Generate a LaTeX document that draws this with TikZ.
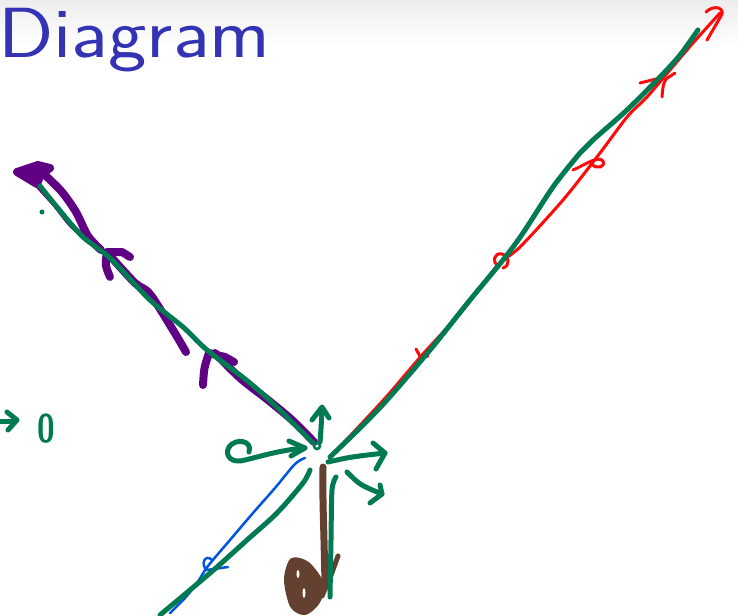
\documentclass[tikz,border=0pt]{standalone}
\definecolor{dgreen}{RGB}{0,122,82}
\definecolor{titleblue}{RGB}{51,51,179}
\definecolor{dpurple}{RGB}{96,0,130}
\definecolor{dblue}{RGB}{0,85,225}
\definecolor{dbrown}{RGB}{100,64,48}
\definecolor{dred}{RGB}{255,10,10}
\begin{document}
\begin{tikzpicture}[x=1pt,y=-1pt,
  gl/.style={draw=dgreen,line width=5pt,line cap=round,line join=round},
  pl/.style={draw=dpurple,line width=8pt,line cap=round,line join=round},
  rl/.style={draw=dred,line width=3pt,line cap=round,line join=round},
  bl/.style={draw=dblue,line width=2.5pt,line cap=round,line join=round},
  brl/.style={draw=dbrown,line width=7pt,line cap=round,line join=round}]
\useasboundingbox (0,0) rectangle (738,615);
\shade[top color=black!7, bottom color=white] (0,0) rectangle (738,46);
\node[anchor=base west, text=titleblue, inner sep=0pt,
  font=\sffamily\fontsize{71}{80}\selectfont] (title) at (-2,58) {\scalebox{1.15}[1]{Diagram}};

% purple
\filldraw[pl,fill=dpurple] (17,172) -- (38,165) -- (50,168) -- (40,176) -- (37,184) -- cycle;
\draw[pl,line width=5pt] plot[smooth] coordinates {(37,185) (55,205) (72,226) (95,246)};
\draw[pl] plot[smooth] coordinates {(46,176) (62,192) (76,212) (88,236) (101,250)};
\draw[pl] (110,277) .. controls (105,265) .. (107,252) -- (122,252) -- (130,257);
\draw[pl] plot[smooth] coordinates {(112,258) (135,283) (150,294) (173,330) (186,352)};
\draw[pl] (203,385) .. controls (204,368) .. (209,353) -- (225,357) -- (234,362);
\draw[pl] plot[smooth] coordinates {(215,353) (240,378) (268,400) (292,420) (314,442)};

% red
\draw[rl] plot[smooth] coordinates {(330,457) (350,436) (387,396) (423,354) (463,310) (497,266) (520,247) (563,200) (600,153) (627,117) (647,97) (670,70) (693,43) (720,13)};
\draw[rl] (707,40) -- (721,16) .. controls (726,8) and (714,4) .. (706,12);
\draw[rl] (499,266) .. controls (491,263) and (494,252) .. (502,254) .. controls (510,256) and (510,266) .. (503,268);
\draw[rl] (573,170) .. controls (585,165) and (598,155) .. (603,161) .. controls (606,167) and (596,170) .. (592,164);
\draw[rl] (640,83) -- (660,78);
\draw[rl] (662,97) .. controls (663,85) .. (666,79) -- (675,73);
\draw[rl] (416,349) -- (421,358) -- (428,356);

% blue
\draw[bl] plot[smooth] coordinates {(305,458) (295,464) (275,488) (253,513) (230,540) (208,566) (197,583) (185,598) (170,613)};
\draw[bl] (212,560) .. controls (205,553) and (200,565) .. (207,570) -- (228,567);

% brown
\draw[brl] plot[smooth] coordinates {(323,467) (323,500) (324,540) (325,583)};
\filldraw[dbrown,line width=4pt,line join=round] plot[smooth cycle] coordinates {(292,560) (308,564) (322,584) (318,602) (305,613) (292,606) (286,580)};
\fill[white] (298,574) ellipse (1.5 and 4);
\fill[white] (304,593) ellipse (1.5 and 5);
\draw[brl,line width=5pt] (338,556) -- (330,578) -- (322,596);

% green
\draw[gl] plot[smooth] coordinates {(40,186) (61,212) (83,237) (110,258) (150,300) (183,327) (207,350) (250,383) (283,413) (313,443)};
\fill[dgreen] (42,212) circle (2.5);
\draw[dgreen,line width=2.5pt] (317,446) circle (3);
\draw[gl] (320,442) .. controls (321,430) .. (322,408);
\draw[gl] (312,420) -- (322,407) -- (329,418);
\draw[gl] (305,448) .. controls (280,450) and (258,457) .. (245,460)
   .. controls (232,464) and (224,456) .. (229,447)
   .. controls (235,438) and (253,440) .. (249,452);
\draw[gl] (289,441) -- (305,448) -- (291,456);
\draw[gl] (328,462) .. controls (350,457) .. (385,453);
\draw[gl] (373,443) -- (385,453) -- (376,469);
\draw[gl] (347,472) .. controls (360,485) .. (382,494);
\draw[gl] (370,503) -- (382,494) -- (380,485);
\draw[gl] plot[smooth] coordinates {(330,457) (360,428) (387,400) (430,350) (470,300) (503,260) (523,233) (553,187) (580,153) (593,140) (627,110) (660,77) (680,55) (698,30)};
\draw[gl] plot[smooth] coordinates {(310,470) (303,483) (277,513) (247,540) (217,567) (190,590) (160,615)};
\draw[gl] plot[smooth] coordinates {(336,477) (332,490) (331,540) (330,597)};
\draw[gl] (0,421) -- (15,421);
\draw[gl] (7,412) -- (17,420) -- (8,430);
\node[text=dgreen, inner sep=0pt, font=\sffamily\bfseries\fontsize{40}{42}\selectfont] (zero) at (46,429) {\scalebox{0.8}[1]{0}};
\end{tikzpicture}
\end{document}
